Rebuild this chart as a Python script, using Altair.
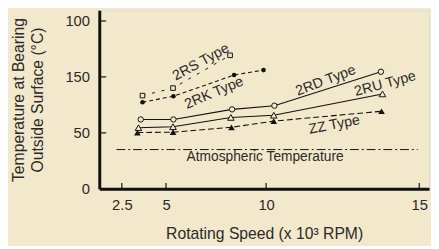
import altair as alt
import pandas as pd

# ---- data ----
speed_rs = [3.67, 5.35, 8.2]
temp_rs = [83.3, 90.0, 119.3]

speed_rk = [3.67, 5.37, 8.4, 9.87]
temp_rk = [77.4, 82.7, 101.7, 106.1]

speed_rd = [3.57, 5.37, 8.3, 10.27, 13.75]
temp_rd = [62.0, 62.0, 71.0, 74.3, 104.6]

speed_ru = [3.44, 5.35, 8.24, 10.25, 13.8]
temp_ru = [54.6, 55.5, 63.8, 65.8, 84.8]

speed_zz = [3.38, 5.35, 8.27, 10.25, 13.77]
temp_zz = [50.3, 50.6, 55.0, 60.5, 69.3]

atm_speed = [1.9, 14.95]
atm_temp = [35.1, 35.1]

x_ticks = [2.5, 5, 10, 15]
y_ticks = [0, 50, 100, 150]
y_tick_labels = ["0", "50", "150", "100"]

label_text = ["2RS Type", "2RK Type", "2RD Type", "2RU Type", "ZZ Type", "Atmospheric Temperature"]
label_x = [6.75, 7.4, 11.95, 13.89, 12.23, 9.95]
label_y = [113.0, 85.5, 96.5, 93.6, 57.0, 28.1]
label_angle = [331, 337, 339, 345, 349, 0]

# ---- layout ----
W, H = 336, 182
BG = "#F2E8CB"
FONT = "Liberation Sans"
TXT = "#2a2a2a"

x_scale = alt.Scale(domain=[1.22, 2.5, 5, 10, 15, 15.3],
                    range=[0, 23, 68, 170, 326, 336])
y_scale = alt.Scale(domain=[0, 159.6], nice=False, zero=False)

def series(xs, ys, name):
    return pd.DataFrame({"speed": xs, "temp": ys, "series": name})

base_x = alt.X("speed:Q", scale=x_scale,
               axis=alt.Axis(values=x_ticks, title="Rotating Speed (x 10³ RPM)",
                             labelExpr="datum.value == 2.5 ? '2.5' : format(datum.value, 'd')",
                             tickSize=0, labelPadding=9, domainWidth=3, domainColor="#111",
                             grid=False, labelFontSize=15, titleFontSize=16,
                             titleFontWeight="normal", titleY=38, labelColor=TXT,
                             titleColor=TXT, labelFlush=False, labelFont=FONT, titleFont=FONT))
base_y = alt.Y("temp:Q", scale=y_scale,
               axis=alt.Axis(values=y_ticks,
                             labelExpr="datum.value == 100 ? '150' : datum.value == 150 ? '100' : datum.label",
                             title=["Temperature at Bearing", "Outside Surface (°C)"],
                             tickSize=0, labelPadding=10, domainWidth=3, domainColor="#111",
                             grid=False, labelFontSize=15, titleFontSize=16,
                             titleFontWeight="normal", titleAngle=270, titleBaseline="top",
                             titleX=-90, titleLineHeight=19, labelColor=TXT,
                             titleColor=TXT, labelFlush=False, labelFont=FONT, titleFont=FONT))

def line_layer(df, dash, width=1.1):
    enc = dict(x=base_x, y=base_y)
    if dash:
        return alt.Chart(df).mark_line(color="#111", strokeWidth=width, strokeDash=dash).encode(**enc)
    return alt.Chart(df).mark_line(color="#111", strokeWidth=width).encode(**enc)

def point_layer(df, shape, filled, size):
    if filled:
        m = alt.Chart(df).mark_point(shape=shape, filled=True, color="#111", size=size, opacity=1)
    else:
        m = alt.Chart(df).mark_point(shape=shape, filled=True, fill=BG, stroke="#111",
                                     strokeWidth=1, size=size, opacity=1)
    return m.encode(x="speed:Q", y="temp:Q")

rs = series(speed_rs, temp_rs, "2RS")
rk = series(speed_rk, temp_rk, "2RK")
rd = series(speed_rd, temp_rd, "2RD")
ru = series(speed_ru, temp_ru, "2RU")
zz = series(speed_zz, temp_zz, "ZZ")
atm = series(atm_speed, atm_temp, "atm")

layers = [
    line_layer(atm, [9, 3, 2, 3], 1.0),
    line_layer(rs, [3, 7], 1.0),
    line_layer(rk, [4, 3]),
    line_layer(rd, None),
    line_layer(ru, None),
    line_layer(zz, [6, 3]),
    point_layer(rs, "square", False, 22),
    point_layer(rk, "circle", True, 22),
    point_layer(rd, "circle", False, 30),
    point_layer(ru, "triangle-up", False, 45),
    point_layer(zz, "triangle-up", True, 45),
]

# inward ticks
xt = pd.DataFrame({"speed": x_ticks})
yt = pd.DataFrame({"temp": y_ticks[1:]})
layers.append(alt.Chart(xt).mark_rule(color="#111", strokeWidth=1.2).encode(
    x="speed:Q", y=alt.value(H), y2=alt.value(H - 6)))
layers.append(alt.Chart(yt).mark_rule(color="#111", strokeWidth=1.2).encode(
    y="temp:Q", x=alt.value(0), x2=alt.value(7)))

labels = pd.DataFrame({"text": label_text, "speed": label_x, "temp": label_y,
                       "angle": label_angle})
for i in range(len(label_text)):
    d = labels.iloc[[i]]
    layers.append(alt.Chart(d).mark_text(fontSize=14.5 if i < 5 else 14, color=TXT,
                                         angle=int(label_angle[i]), font=FONT)
                  .encode(x="speed:Q", y="temp:Q", text="text:N"))

chart = alt.layer(*layers).properties(
    width=W, height=H, background=BG,
    autosize=alt.AutoSizeParams(type="none"),
    padding={"left": 93, "top": 0, "right": 2, "bottom": 56},
).configure_view(stroke=None).configure(font=FONT)

chart.save("out.html", embed_options={"renderer": "svg", "actions": False})
